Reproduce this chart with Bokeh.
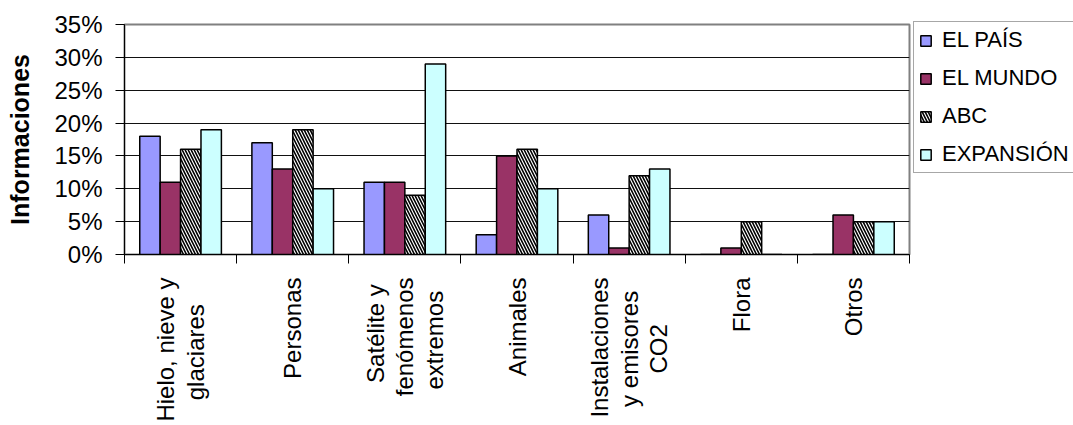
from math import pi
from bokeh.plotting import figure
from bokeh.models import (FactorRange, Range1d, ColumnDataSource, LinearAxis,
                          FixedTicker, NumeralTickFormatter, Legend, LegendItem)
from bokeh.transform import dodge
from bokeh.embed import file_html
from bokeh.resources import INLINE

# ---- data ----
categories = ["Hielo, nieve y glaciares", "Personas", "Satélite y fenómenos extremos",
              "Animales", "Instalaciones y emisores CO2", "Flora", "Otros"]
# wrapped tick labels as shown under the axis (NBSP padding centres the shorter lines)
NB = "\u00a0"
tick_labels = ["Hielo, nieve y\nglaciares" + NB * 4, "Personas",
               "Satélite y" + NB + "\nfenómenos\nextremos" + NB * 2, "Animales",
               "Instalaciones\ny emisores" + NB * 2 + "\nCO2" + NB * 7, "Flora", "Otros"]
series = ["EL PAÍS", "EL MUNDO", "ABC", "EXPANSIÓN"]
el_pais = [18, 17, 11, 3, 6, 0, 0]
el_mundo = [11, 13, 11, 15, 1, 1, 6]
abc = [16, 19, 9, 16, 12, 5, 5]
expansion = [19, 10, 29, 10, 13, 0, 5]
y_ticks = [0, 5, 10, 15, 20, 25, 30, 35]
y_axis_title = "Informaciones"

values = [el_pais, el_mundo, abc, expansion]
fills = ["#9999FF", "#993366", "#FFFFFF", "#CCFFFF"]
hatches = [None, None, "\\", None]
offsets = [-0.273, -0.091, 0.091, 0.273]
bar_w = 0.182
FONT = "Liberation Sans"

src = ColumnDataSource(dict(cat=categories,
                            **{f"s{i}": [v / 100 for v in vals] for i, vals in enumerate(values)}))

p = figure(x_range=FactorRange(*categories), y_range=Range1d(0, y_ticks[-1] / 100),
           frame_width=785, frame_height=230,
           min_border_left=124, min_border_top=24, min_border_right=160, min_border_bottom=160,
           x_axis_location=None, output_backend="svg", toolbar_location=None)
p.background_fill_color = "white"
p.border_fill_color = "white"
p.outline_line_color = "#808080"
p.outline_line_width = 2

# grid
p.xgrid.grid_line_color = None
p.ygrid.ticker = FixedTicker(ticks=[t / 100 for t in y_ticks[1:-1]])
p.ygrid.grid_line_color = "#111111"
p.ygrid.grid_line_width = 1

# y axis
ya = p.yaxis[0]
ya.ticker = FixedTicker(ticks=[t / 100 for t in y_ticks])
ya.formatter = NumeralTickFormatter(format="0%")
ya.major_label_text_font = FONT
ya.major_label_text_font_size = "24px"
ya.major_label_text_color = "black"
ya.major_label_standoff = 13
ya.major_tick_out = 9
ya.major_tick_in = 0
ya.major_tick_line_color = "black"
ya.minor_tick_line_color = None
ya.axis_line_color = "black"
ya.axis_label = y_axis_title
ya.axis_label_text_font = FONT
ya.axis_label_text_font_size = "25px"
ya.axis_label_text_font_style = "bold"
ya.axis_label_text_color = "black"
ya.axis_label_standoff = 17

# x axis: labels at category centres, ticks at category boundaries
n = len(categories)
xa = LinearAxis(ticker=FixedTicker(ticks=[i + 0.5 for i in range(n)],
                                   minor_ticks=list(range(n + 1))),
                major_label_overrides={i + 0.5: lab for i, lab in enumerate(tick_labels)},
                major_label_orientation=pi / 2, major_label_standoff=14,
                major_label_text_font=FONT, major_label_text_font_size="24px",
                major_label_text_color="black", major_label_text_line_height=1.08,
                major_tick_line_color=None, major_tick_out=0, major_tick_in=0,
                minor_tick_out=9, minor_tick_in=0, minor_tick_line_color="black",
                axis_line_color="black")
p.add_layout(xa, "below")

# bars
items = []
for i, name in enumerate(series):
    r = p.vbar(x=dodge("cat", offsets[i], range=p.x_range), top=f"s{i}", width=bar_w,
               source=src, fill_color=fills[i], line_color="black", line_width=1.5,
               hatch_pattern=hatches[i], hatch_color="black", hatch_weight=1.6, hatch_scale=6)
    items.append(LegendItem(label=name, renderers=[r]))

legend = Legend(items=items, location=(4, 81), label_text_font=FONT,
                label_text_font_size="22px", label_text_color="black",
                glyph_width=13, glyph_height=13, label_height=24, spacing=12,
                padding=5, margin=0, label_standoff=10,
                border_line_color="#505050", border_line_width=1.5,
                background_fill_color="white", background_fill_alpha=1)
p.add_layout(legend, "right")

open("out.html", "w").write(file_html(p, INLINE))
